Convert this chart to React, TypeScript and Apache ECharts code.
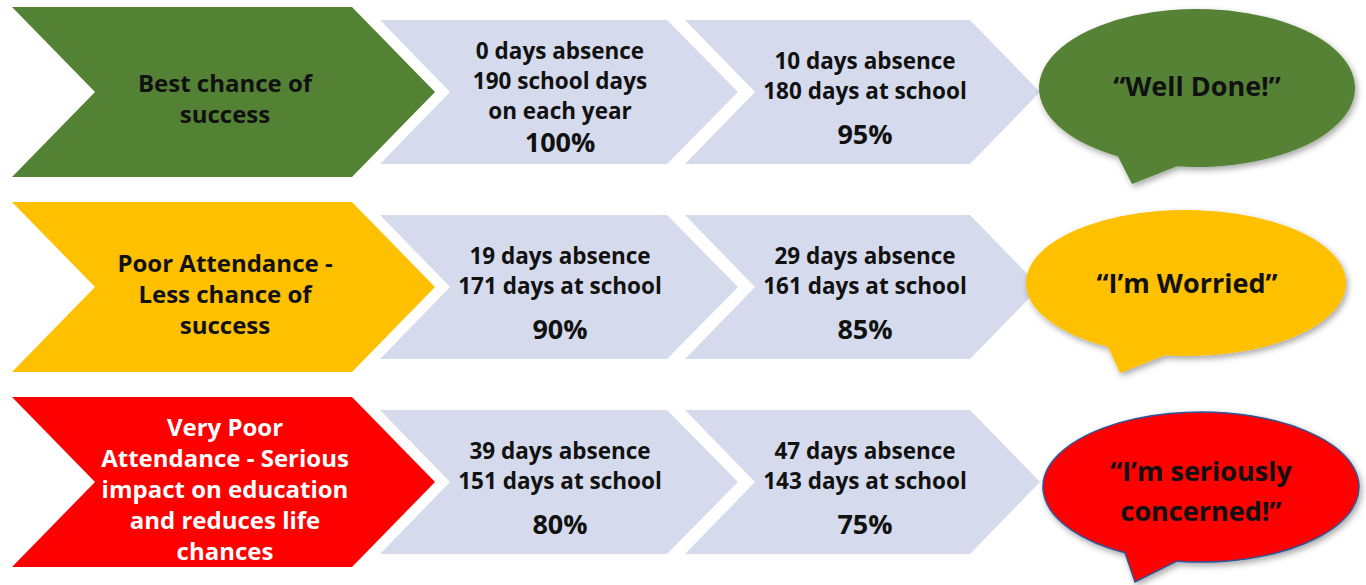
import React, { useEffect, useRef } from "react";
import * as echarts from "echarts";

// ---- data ----
const levels = [
  "Best chance of\nsuccess",
  "Poor Attendance -\nLess chance of\nsuccess",
  "Very Poor\nAttendance - Serious\nimpact on education\nand reduces life\nchances",
];
const levelColors = ["#548235", "#FFC000", "#FF0000"];
const levelTextColors = ["#111111", "#111111", "#FFFFFF"];
const absenceDays = [[0, 10], [19, 29], [39, 47]];
const daysAtSchool = [[190, 180], [171, 161], [151, 143]];
const attendancePct = [[100, 95], [90, 85], [80, 75]];
const messages = ["\u201CWell Done!\u201D", "\u201CI\u2019m Worried\u201D", "\u201CI\u2019m seriously\nconcerned!\u201D"];

// ---- layout ----
const FONT = "Open Sans";
const rowCenters = [92, 287, 482];
const bigChev = { left: 12, shoulder: 352, tip: 435, notch: 95, half: 85 };
const lightChevs = [
  { left: 380, shoulder: 667, tip: 738, notch: 450, cx: 560 },
  { left: 685, shoulder: 970, tip: 1040, notch: 755, cx: 865 },
];
const lightHalf = 72;
const lightColor = "#D5DAEC";
const bubbles = [
  { cx: 1197, cy: 88, rx: 158, ry: 79, tl: 1118, tr: 1177, tx: 1132, ty: 184, textX: 1197, textY: 85, lh: 32, stroke: null },
  { cx: 1186, cy: 283, rx: 160, ry: 73, tl: 1108, tr: 1165, tx: 1120, ty: 373, textX: 1187, textY: 282, lh: 32, stroke: null },
  { cx: 1201, cy: 487, rx: 158, ry: 75, tl: 1125, tr: 1177, tx: 1135, ty: 582, textX: 1201, textY: 490, lh: 40, stroke: "#2F5597" },
];

function chevronPts(left: number, shoulder: number, tip: number, notch: number, cy: number, half: number) {
  return [
    [left, cy - half],
    [shoulder, cy - half],
    [tip, cy],
    [shoulder, cy + half],
    [left, cy + half],
    [notch, cy],
  ];
}

function bubblePath(b: any) {
  const yAt = (x: number) => b.cy + b.ry * Math.sqrt(Math.max(0, 1 - ((x - b.cx) / b.rx) ** 2));
  const yl = yAt(b.tl);
  const yr = yAt(b.tr);
  return `M ${b.tr} ${yr} A ${b.rx} ${b.ry} 0 1 0 ${b.tl} ${yl} L ${b.tx} ${b.ty} Z`;
}

export default function App() {
  const ref = useRef<HTMLDivElement>(null);
  useEffect(() => {
    document.body.style.margin = "0";
    bubbles.forEach((b, i) => {
      echarts.graphic.registerShape("bubble" + i, echarts.graphic.extendPath(bubblePath(b), {}) as any);
    });
    const chart = echarts.init(ref.current!, null, { renderer: "svg" });
    const elements: any[] = [];
    rowCenters.forEach((cy, r) => {
      elements.push({
        type: "polygon",
        shape: { points: chevronPts(bigChev.left, bigChev.shoulder, bigChev.tip, bigChev.notch, cy, bigChev.half) },
        style: { fill: levelColors[r] },
      });
      elements.push({
        type: "text",
        x: 225,
        y: cy + 6,
        style: {
          text: levels[r],
          fill: levelTextColors[r],
          fontFamily: FONT,
          fontWeight: "bold",
          fontSize: 24,
          lineHeight: 31,
          align: "center",
          verticalAlign: "middle",
        },
      });
      lightChevs.forEach((c, k) => {
        elements.push({
          type: "polygon",
          shape: { points: chevronPts(c.left, c.shoulder, c.tip, c.notch, cy, lightHalf) },
          style: { fill: lightColor },
        });
        const abs = absenceDays[r][k];
        const att = daysAtSchool[r][k];
        const pct = attendancePct[r][k];
        const first = r === 0 && k === 0;
        const lines = first
          ? [`${abs} days absence`, `${att} school days`, `on each year`]
          : [`${abs} days absence`, `${att} days at school`];
        const startY = first ? cy - 42 : cy - 32;
        lines.forEach((ln, j) => {
          elements.push({
            type: "text",
            x: c.cx,
            y: startY + j * 30,
            style: {
              text: ln,
              fill: "#111111",
              fontFamily: FONT,
              fontWeight: "bold",
              fontSize: 22.5,
              align: "center",
              verticalAlign: "middle",
            },
          });
        });
        elements.push({
          type: "text",
          x: c.cx,
          y: first ? cy + 49 : cy + 41,
          style: {
            text: `${pct}%`,
            fill: "#111111",
            fontFamily: FONT,
            fontWeight: "bold",
            fontSize: 27,
            align: "center",
            verticalAlign: "middle",
          },
        });
      });
      const b = bubbles[r];
      elements.push({
        type: "bubble" + r,
        x: 0,
        y: 0,
        style: {
          fill: levelColors[r],
          stroke: b.stroke || undefined,
          lineWidth: b.stroke ? 1.5 : 0,
          shadowBlur: 6,
          shadowOffsetX: 2,
          shadowOffsetY: 3,
          shadowColor: "rgba(0,0,0,0.35)",
        },
      });
      elements.push({
        type: "text",
        x: b.textX,
        y: b.textY,
        style: {
          text: messages[r],
          fill: "#111111",
          fontFamily: FONT,
          fontWeight: "bold",
          fontSize: 27,
          lineHeight: b.lh,
          align: "center",
          verticalAlign: "middle",
        },
      });
    });
    chart.setOption({
      animation: false,
      backgroundColor: "#FFFFFF",
      graphic: { elements },
    });
    return () => chart.dispose();
  }, []);
  return <div ref={ref} style={{ width: 1366, height: 585 }} />;
}
